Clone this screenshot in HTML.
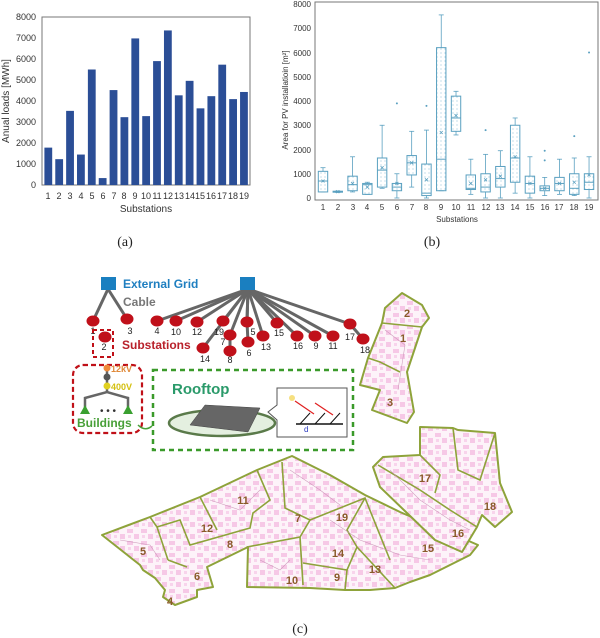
<!DOCTYPE html>
<html><head><meta charset="utf-8"><style>
html,body{margin:0;padding:0;background:#fff}
svg{display:block}
text{font-family:"Liberation Sans",sans-serif}
.t{font-size:9px;fill:#333}
.lab{font-family:"Liberation Serif",serif;font-size:14px;fill:#222}
.num{font-size:9px;fill:#222;text-anchor:middle}
.dn{font-size:11px;fill:#8a5a2a;font-weight:bold;text-anchor:middle}
</style></head><body>
<svg id="s" width="600" height="638" viewBox="0 0 600 638" xmlns="http://www.w3.org/2000/svg">
<defs>
<pattern id="dots" width="4" height="4" patternUnits="userSpaceOnUse"><circle cx="1" cy="1" r="0.5" fill="#6aa8c8"/></pattern>
<pattern id="bld" width="14" height="12" patternUnits="userSpaceOnUse"><rect width="14" height="12" fill="#fdf3f9"/><rect x="1" y="1" width="6" height="4" fill="#f6c8e6"/><rect x="8" y="6" width="5" height="5" fill="#f6c8e6"/><rect x="2" y="7" width="3" height="3" fill="#f8d4ec"/></pattern>
</defs>
<!-- (a) -->
<rect x="42" y="17" width="208" height="168" fill="none" stroke="#777" stroke-width="1"/>
<g id="bars" fill="#2b4e96"></g>
<g class="t" text-anchor="end">
<text x="36" y="20">8000</text><text x="36" y="41">7000</text><text x="36" y="62">6000</text><text x="36" y="83">5000</text><text x="36" y="104">4000</text><text x="36" y="125">3000</text><text x="36" y="146">2000</text><text x="36" y="167">1000</text><text x="36" y="188">0</text>
</g>
<g class="t" text-anchor="middle" id="ax"><text x="48" y="199">1</text><text x="59" y="199">2</text><text x="70" y="199">3</text><text x="81" y="199">4</text><text x="92" y="199">5</text><text x="103" y="199">6</text><text x="114" y="199">7</text><text x="124" y="199">8</text><text x="135" y="199">9</text><text x="146" y="199">10</text><text x="157" y="199">11</text><text x="168" y="199">12</text><text x="179" y="199">13</text><text x="190" y="199">14</text><text x="200" y="199">15</text><text x="211" y="199">16</text><text x="222" y="199">17</text><text x="233" y="199">18</text><text x="244" y="199">19</text></g>
<text class="t" x="146" y="212" text-anchor="middle" style="font-size:10px">Substations</text>
<text class="t" transform="translate(9,101) rotate(-90)" text-anchor="middle" style="font-size:10px">Anual loads [MWh]</text>
<text class="lab" x="125" y="246" text-anchor="middle">(a)</text>
<!-- (b) -->
<rect x="315" y="2" width="283" height="198" fill="none" stroke="#777" stroke-width="1"/>
<g id="boxes"></g>
<g class="t" text-anchor="end" style="font-size:8px">
<text x="311" y="7">8000</text><text x="311" y="31">7000</text><text x="311" y="56">6000</text><text x="311" y="80">5000</text><text x="311" y="104">4000</text><text x="311" y="128">3000</text><text x="311" y="153">2000</text><text x="311" y="177">1000</text><text x="311" y="201">0</text>
</g>
<g class="t" text-anchor="middle" style="font-size:8px"><text x="323" y="210">1</text><text x="338" y="210">2</text><text x="353" y="210">3</text><text x="367" y="210">4</text><text x="382" y="210">5</text><text x="397" y="210">6</text><text x="412" y="210">7</text><text x="426" y="210">8</text><text x="441" y="210">9</text><text x="456" y="210">10</text><text x="471" y="210">11</text><text x="486" y="210">12</text><text x="500" y="210">13</text><text x="515" y="210">14</text><text x="530" y="210">15</text><text x="545" y="210">16</text><text x="559" y="210">17</text><text x="574" y="210">18</text><text x="589" y="210">19</text></g>
<text class="t" x="457" y="222" text-anchor="middle" style="font-size:8px">Substations</text>
<text class="t" transform="translate(288,100) rotate(-90)" text-anchor="middle" style="font-size:8px">Area for PV installatioin [m²]</text>
<text class="lab" x="432" y="246" text-anchor="middle">(b)</text>

<!-- (c) map -->
<g fill="url(#bld)" stroke="#8ea33a" stroke-width="2" stroke-linejoin="round">
<polygon points="102,535 150,517 200,497 257,470 292,456 330,475 365,495 400,512 430,525 455,535 478,545 470,555 450,565 430,575 410,582 395,588 370,590 345,590 310,588 247,587 248,547 207,567 213,587 197,590 197,597 175,605 163,597 165,590 155,578 143,570 140,565"/>
<polygon points="402,293 422,305 429,318 422,327 407,372 414,412 407,423 372,410 380,390 360,385 368,358 382,323 385,308"/>
<polygon points="420,427 453,428 458,430 495,433 500,483 512,512 495,527 482,515 477,527 462,552 435,540 407,513 380,487 373,467 383,457 420,455"/>
</g>
<g fill="none" stroke="#8ea33a" stroke-width="1.6">
<polyline points="150,517 157,527 168,560"/>
<polyline points="157,527 180,520 190,545 250,528 253,513 270,500 257,470"/>
<polyline points="200,497 217,530"/>
<polyline points="282,462 285,508 310,520 300,537 247,547"/>
<polyline points="187,567 168,560"/>
<polyline points="310,520 365,498 390,560"/>
<polyline points="300,537 303,585"/>
<polyline points="303,563 347,570 357,547 347,530 365,498"/>
<polyline points="347,570 345,590"/>
<polyline points="357,547 395,588"/>
<polyline points="382,323 422,327"/>
<polyline points="368,358 380,362 400,372"/>
<polyline points="378,465 420,490 450,510 477,527"/>
<polyline points="420,455 440,475 435,493"/>
<polyline points="453,428 458,470 480,480 495,433"/>
</g>
<g fill="none" stroke="#c58ab0" stroke-width="0.6" opacity="0.8">
<polyline points="120,540 150,545 160,560"/><polyline points="210,500 240,510 260,490"/><polyline points="290,470 320,490 340,505"/><polyline points="330,520 360,540 400,555 430,560"/><polyline points="260,560 280,570 290,560"/><polyline points="390,470 420,500 450,520 470,530"/><polyline points="385,330 405,345 398,390"/>
</g>
<g class="dn">
<text x="143" y="555">5</text><text x="207" y="532">12</text><text x="243" y="504">11</text><text x="230" y="548">8</text><text x="298" y="522">7</text><text x="342" y="521">19</text><text x="338" y="557">14</text><text x="292" y="584">10</text><text x="337" y="581">9</text><text x="375" y="573">13</text><text x="197" y="580">6</text><text x="170" y="605">4</text><text x="407" y="317">2</text><text x="403" y="342">1</text><text x="390" y="406">3</text><text x="425" y="482">17</text><text x="490" y="510">18</text><text x="458" y="537">16</text><text x="428" y="552">15</text>
</g>

<!-- schematic -->
<g stroke="#666" stroke-width="3" fill="none" id="cables">
<line x1="108" y1="289" x2="93" y2="321"/><line x1="108" y1="289" x2="127" y2="319"/>
</g>
<rect x="101" y="277" width="15" height="13" fill="#1a7fc0"/>
<rect x="240" y="277" width="15" height="13" fill="#1a7fc0"/>
<text x="123" y="288" style="font-size:12px;font-weight:bold;fill:#1f7fc0">External Grid</text>
<text x="123" y="306" style="font-size:12px;font-weight:bold;fill:#777">Cable</text>
<g id="nodes" fill="#c0101a"></g>
<g class="num">
<text x="93" y="334">1</text><text x="130" y="334">3</text><text x="104" y="350">2</text><text x="157" y="334">4</text><text x="176" y="335">10</text><text x="197" y="335">12</text><text x="219" y="335">19</text><text x="223" y="345">7</text><text x="230" y="363">8</text><text x="253" y="335">5</text><text x="249" y="356">6</text><text x="266" y="350">13</text><text x="279" y="336">15</text><text x="298" y="349">16</text><text x="316" y="349">9</text><text x="333" y="349">11</text><text x="350" y="340">17</text><text x="365" y="353">18</text><text x="205" y="362">14</text>
</g>
<text x="122" y="349" style="font-size:12px;font-weight:bold;fill:#b8202a">Substations</text>
<rect x="93" y="330" width="20" height="27" fill="none" stroke="#c01018" stroke-width="2" stroke-dasharray="4,3"/>
<rect x="73" y="365" width="69" height="68" rx="10" fill="none" stroke="#c01018" stroke-width="2.2" stroke-dasharray="5,3"/>
<line x1="107" y1="368" x2="107" y2="392" stroke="#666" stroke-width="2.5"/>
<circle cx="107" cy="368" r="3.5" fill="#f08a3a"/>
<circle cx="107" cy="377" r="3.5" fill="#555"/>
<circle cx="107" cy="386" r="3.5" fill="#e0d020"/>
<text x="111" y="372" style="font-size:9px;font-weight:bold;fill:#e08a3a">12kV</text>
<text x="111" y="390" style="font-size:9px;font-weight:bold;fill:#d4c010">400V</text>
<polyline points="85,408 85,398 107,392 128,398 128,408" fill="none" stroke="#666" stroke-width="2.5"/>
<polygon points="80,414 85,405 90,414" fill="#3aa030"/><polygon points="123,414 128,405 133,414" fill="#3aa030"/>
<text x="100" y="414" style="font-size:10px;fill:#333">• • •</text>
<text x="77" y="427" style="font-size:12px;font-weight:bold;fill:#48a038">Buildings</text>
<path d="M138,425 Q145,432 152,426" stroke="#48a038" fill="none" stroke-width="1.5"/>
<rect x="153" y="370" width="200" height="80" fill="none" stroke="#3a9a2a" stroke-width="2.5" stroke-dasharray="5,4"/>
<text x="172" y="394" style="font-size:15px;font-weight:bold;fill:#2a9a6a">Rooftop</text>
<ellipse cx="222" cy="423" rx="53" ry="13" fill="#e4efe0" stroke="#5a7a4a" stroke-width="2.5"/>
<polygon points="190,425 205,405 260,408 248,432" fill="#666" stroke="#444" stroke-width="0.5"/>
<polygon points="277,388 347,388 347,437 277,437 277,420 268,412 277,405" fill="#fff" stroke="#555" stroke-width="1"/>
<circle cx="292" cy="398" r="3" fill="#f6e080"/>
<line x1="295" y1="401" x2="314" y2="414" stroke="#e02020" stroke-width="1.2"/><line x1="315" y1="403" x2="333" y2="415" stroke="#e02020" stroke-width="1.2"/>
<line x1="296" y1="424" x2="343" y2="424" stroke="#111" stroke-width="1.5"/>
<line x1="300" y1="424" x2="310" y2="413" stroke="#111"/><line x1="315" y1="424" x2="325" y2="413" stroke="#111"/><line x1="330" y1="424" x2="340" y2="413" stroke="#111"/>
<text x="304" y="432" style="font-size:8px;fill:#2a3ac0">d</text>
<text class="lab" x="300" y="633" text-anchor="middle">(c)</text>
</svg>
<script>
var NS="http://www.w3.org/2000/svg";
function el(p,t,a){var e=document.createElementNS(NS,t);for(var k in a)e.setAttribute(k,a[k]);p.appendChild(e);return e;}
var vals=[1780,1230,3530,1450,5500,330,4520,3230,6980,3280,5900,7360,4270,4960,3650,4230,5730,4090,4430];
var g=document.getElementById('bars');
vals.forEach(function(v,i){var cx=48.3+i*10.87,h=v*168/8000;el(g,'rect',{x:cx-3.9,y:185-h,width:7.8,height:h});});
var B=[[250,250,700,1100,1250,700,[]],[230,240,260,280,290,260,[]],[250,300,550,900,1700,600,[]],[150,150,550,600,650,450,[]],[400,450,1150,1650,3000,1250,[]],[0,300,450,600,1000,600,[3900]],[450,950,1450,1750,2750,1450,[]],[0,100,200,1400,2800,750,[3800]],[300,300,1600,6200,7550,2700,[]],[2600,2750,3300,4200,4400,3400,[]],[150,350,400,950,1600,600,[]],[0,250,450,1000,1800,750,[2800]],[0,450,800,1300,1950,900,[]],[200,650,1650,3000,3300,1700,[]],[0,200,600,900,1700,600,[]],[100,300,400,500,850,400,[1950,1550]],[150,300,600,850,1600,600,[]],[100,150,400,1000,1650,650,[2550]],[0,350,650,1000,1700,950,[6000]]];
var bx=document.getElementById('boxes');var c="#5aa0c0";
function Y(v){return 198-v*0.02425;}
B.forEach(function(b,i){var x=323+i*14.78,w=4.7;
el(bx,'line',{x1:x,x2:x,y1:Y(b[4]),y2:Y(b[3]),stroke:c,'stroke-width':0.8});
el(bx,'line',{x1:x,x2:x,y1:Y(b[1]),y2:Y(b[0]),stroke:c,'stroke-width':0.8});
el(bx,'line',{x1:x-2.5,x2:x+2.5,y1:Y(b[4]),y2:Y(b[4]),stroke:c,'stroke-width':0.8});
el(bx,'line',{x1:x-2.5,x2:x+2.5,y1:Y(b[0]),y2:Y(b[0]),stroke:c,'stroke-width':0.8});
var hh=Math.max(1,Y(b[1])-Y(b[3]));
el(bx,'rect',{x:x-w,y:Y(b[3]),width:2*w,height:hh,fill:'url(#dots)',stroke:c,'stroke-width':1});
el(bx,'line',{x1:x-w,x2:x+w,y1:Y(b[2]),y2:Y(b[2]),stroke:c,'stroke-width':1});
var m=Y(b[5]);el(bx,'path',{d:'M'+(x-1.5)+','+(m-1.5)+'l3,3M'+(x+1.5)+','+(m-1.5)+'l-3,3',stroke:c,'stroke-width':0.8});
b[6].forEach(function(o){el(bx,'circle',{cx:x,cy:Y(o),r:1,fill:c});});
});
var N=[[93,321],[127,319],[105,337],[157,321],[176,321],[197,322],[223,321],[230,335],[230,351],[247,322],[248,342],[263,336],[277,323],[297,336],[315,336],[333,336],[350,324],[363,339],[203,348]];
var cab=document.getElementById('cables'),nd=document.getElementById('nodes');
[3,4,5,6,7,9,11,12,13,14,15,16,18].forEach(function(i){el(cab,'line',{x1:248,y1:289,x2:N[i][0],y2:N[i][1]});});
el(cab,'line',{x1:230,y1:335,x2:230,y2:351});el(cab,'line',{x1:247,y1:322,x2:248,y2:342});el(cab,'line',{x1:350,y1:324,x2:363,y2:339});el(cab,'line',{x1:248,y1:289,x2:247,y2:322});
N.forEach(function(p){el(nd,'ellipse',{cx:p[0],cy:p[1],rx:6.5,ry:5.5});});
</script>
</body></html>
